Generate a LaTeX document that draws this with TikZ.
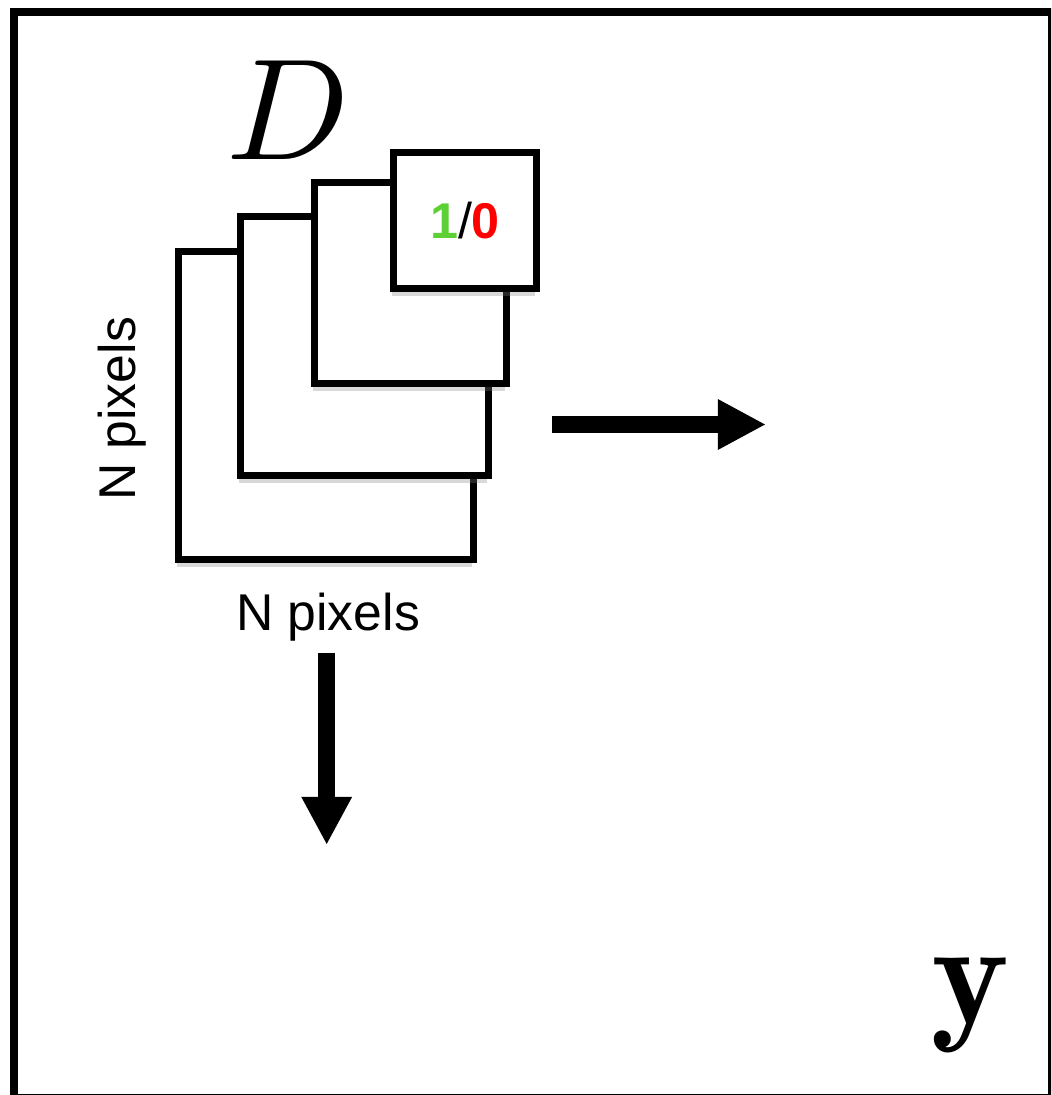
\documentclass[tikz,border=0pt]{standalone}
\usepackage{graphicx}
\usepackage{fontspec}
\newfontfamily\labelfont{Liberation Sans}
\usepackage{tikz}
\usetikzlibrary{shadows, arrows.meta}
\definecolor{onegreen}{RGB}{92,208,52}
\definecolor{zerored}{RGB}{255,0,0}

\begin{document}
\begin{tikzpicture}[
    x=0.01cm, y=-0.01cm,
    layer/.style={draw, rectangle, line width=2.13pt, fill=white, inner sep=0pt,
        drop shadow={shadow xshift=-0.4pt, shadow yshift=-2.2pt, opacity=0.3}},
    pixlabel/.style={font=\labelfont\fontsize{14.7}{17}\selectfont, inner sep=0pt, anchor=base},
    flow/.style={line width=4.75pt, -{Triangle[length=13.7pt, width=13.4pt]}}
]

    % ================= FRAME =================
    \useasboundingbox (0,0) rectangle (1051,1095);
    \begin{scope}
        \clip (0,0) rectangle (1051,1095);
        \draw[line width=2.27pt] (14,12) rectangle (1051.5,1098);
    \end{scope}

    % ================= STACK OF LAYERS =================
    \node[layer, minimum width=2.945cm, minimum height=3.075cm] (sq1) at (326,405.5) {};
    \node[layer, minimum width=2.475cm, minimum height=2.585cm] (sq2) at (364.5,346) {};
    \node[layer, minimum width=1.915cm, minimum height=2.005cm] (sq3) at (410.5,283) {};
    \node[layer, minimum width=1.425cm, minimum height=1.355cm,
          font=\labelfont\fontsize{14.3}{17}\selectfont] (sq4) at (465,220.5)
          {\textbf{\textcolor{onegreen}{1}}/\textbf{\textcolor{zerored}{0}}};

    % Labels
    \node[anchor=base, inner sep=0pt] (dname) at (288,160) {\scalebox{4.1}{$D$}};
    \node[pixlabel] (wlabel) at (328,630) {N pixels};
    \node[pixlabel, rotate=90] (hlabel) at (135,409) {N pixels};
    \node[anchor=base, inner sep=0pt, font=\fontsize{42}{46}\selectfont] (yname) at (970,1023) {$\mathbf{y}$};

    % ================= OUTPUT ARROWS =================
    \coordinate (rtail) at (552,424.5);
    \coordinate (rhead) at (766,424.5);
    \draw[flow] (rtail) -- (rhead);

    \coordinate (dtail) at (326.7,652.5);
    \coordinate (dhead) at (326.7,845);
    \draw[flow] (dtail) -- (dhead);

\end{tikzpicture}
\end{document}
